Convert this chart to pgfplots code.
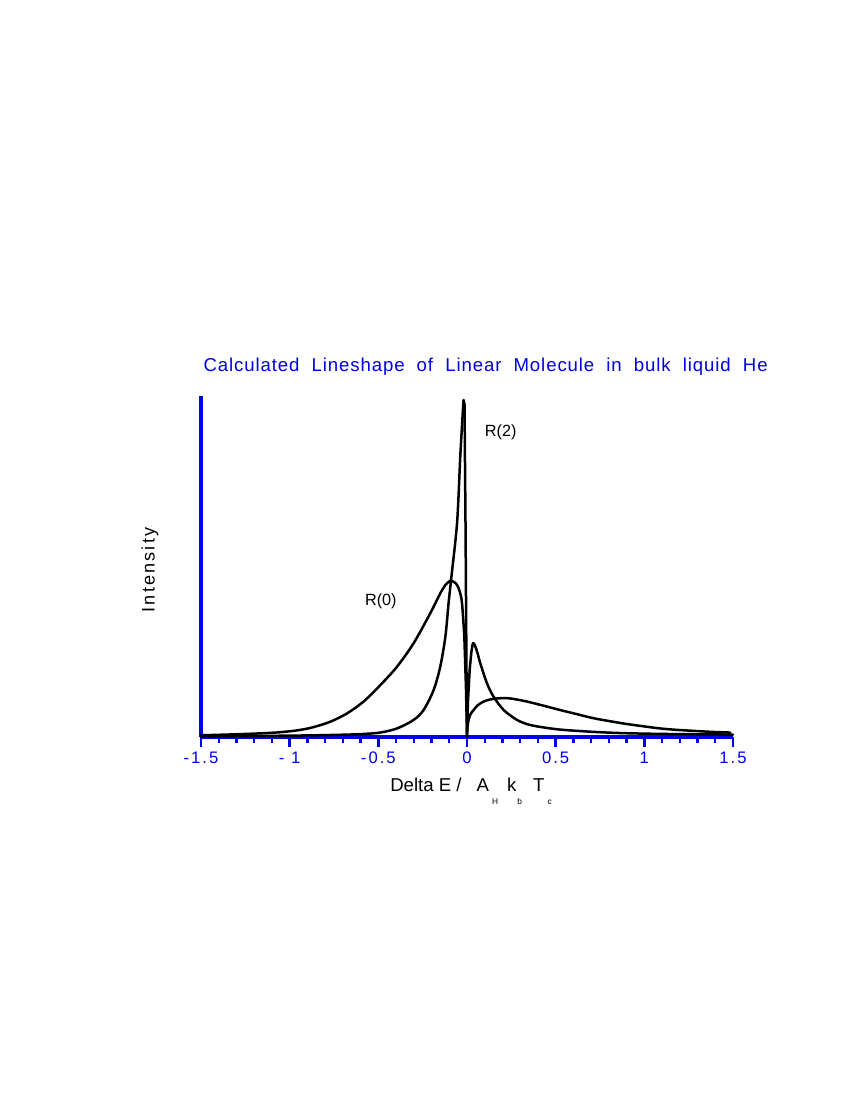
\documentclass[border=0pt]{standalone}
\usepackage{fontspec}
\setmainfont{Liberation Sans}
\newfontfamily\spaced[LetterSpace=12]{Liberation Sans}
\newfontfamily\titlefont[WordSpace=2,LetterSpace=4.8]{Liberation Sans}
\usepackage{pgfplots}
\pgfplotsset{compat=1.18}
\definecolor{axblue}{RGB}{0,0,230}
\begin{document}
\begin{tikzpicture}
\useasboundingbox (0,0) rectangle (612pt,792pt);
\begin{axis}[
  at={(144.72pt,261.36pt)}, anchor=south west,
  scale only axis, width=383.04pt, height=245.52pt,
  xmin=-1.5, xmax=1.5, ymin=0, ymax=1,
  axis x line*=bottom, axis y line*=left,
  axis line style={axblue, line width=2.2pt},
  xtick={-1.5,-1,-0.5,0,0.5,1,1.5},
  xticklabels={-1.5,- 1,-0.5,0,0.5,1,1.5},
  minor x tick num=4,
  ytick=\empty,
  tick align=outside,
  major tick length=7pt, minor tick length=4.4pt,
  tick style={axblue, line width=1.7pt},
  xticklabel style={font=\spaced\fontsize{12}{14}\selectfont, text=axblue},
  clip=false,
  every axis plot/.append style={black, line width=1.8pt, line join=round, line cap=round},
]
% R(0)
\addplot[smooth] coordinates {
(-1.5,0.005) (-1.3,0.008) (-1.15,0.011) (-1.053,0.014) (-0.95,0.020)
(-0.865,0.029) (-0.77,0.045) (-0.677,0.069) (-0.583,0.104) (-0.489,0.152)
(-0.395,0.206) (-0.301,0.275) (-0.207,0.363) (-0.151,0.421) (-0.12,0.447)
(-0.094,0.458) (-0.075,0.455) (-0.056,0.446) (-0.04,0.425) (-0.028,0.392)
(-0.015,0.294)
};
\addplot[sharp plot] coordinates {
(-0.015,0.294) (-0.006,0.148) (0,0.01) (0.005,0.1) (0.015,0.196)
};
\addplot[smooth] coordinates {
(0.015,0.196) (0.025,0.25) (0.034,0.275) (0.045,0.268) (0.06,0.245) (0.075,0.216)
(0.113,0.157) (0.15,0.118) (0.207,0.079) (0.282,0.050) (0.35,0.036)
(0.432,0.028) (0.52,0.022) (0.62,0.018) (0.75,0.014) (0.9,0.011)
(1.1,0.009) (1.3,0.008) (1.5,0.007)
};
% R(2)
\addplot[smooth] coordinates {
(-1.5,0.002) (-1.2,0.003) (-1.0,0.004) (-0.85,0.005) (-0.677,0.007)
(-0.58,0.009) (-0.489,0.013) (-0.395,0.025) (-0.301,0.050) (-0.245,0.079)
(-0.188,0.138) (-0.151,0.206) (-0.122,0.294) (-0.104,0.392) (-0.09,0.46)
(-0.056,0.628) (-0.038,0.822) (-0.023,0.959) (-0.019,0.988)
};
\addplot[sharp plot] coordinates {
(-0.019,0.988) (-0.014,0.975) (-0.008,0.6) (-0.003,0.2) (0,0)
};
\addplot[smooth] coordinates {
(0,0) (0.003,0.03) (0.009,0.05)
(0.02,0.067) (0.037,0.079) (0.06,0.093) (0.094,0.104) (0.13,0.110)
(0.169,0.113) (0.21,0.114) (0.244,0.113) (0.29,0.109) (0.338,0.104)
(0.43,0.092) (0.526,0.079) (0.62,0.067) (0.714,0.055) (0.81,0.046)
(0.902,0.038) (1.0,0.031) (1.09,0.025) (1.18,0.021) (1.277,0.018)
(1.38,0.015) (1.484,0.013)
};
\node[font=\fontsize{11.7}{14}\selectfont] at (axis cs:-0.486,0.397) {R(0)};
\node[font=\fontsize{11.7}{14}\selectfont] at (axis cs:0.19,0.893) {R(2)};
\node[anchor=base, text=axblue, font=\titlefont\fontsize{13.4}{16}\selectfont]
  at ([yshift=17.3pt]rel axis cs:0.535,1) {Calculated Lineshape of Linear Molecule in bulk liquid He};
\node[rotate=90, font=\spaced\fontsize{13}{15}\selectfont]
  at ([xshift=-36.7pt]rel axis cs:0,0.49) {Intensity};
\node[anchor=base west, inner sep=0pt, font=\fontsize{13.4}{16}\selectfont]
  at ([yshift=-39.4pt]rel axis cs:0.3553,0)
  {Delta E /\hspace{10.8pt}A\hspace{2.2pt}\raisebox{-9pt}{\fontsize{6}{7}\selectfont H}\hspace{6.5pt}k\hspace{0.7pt}\raisebox{-9pt}{\fontsize{6}{7}\selectfont b}\hspace{8pt}T\hspace{2.2pt}\raisebox{-9pt}{\fontsize{6}{7}\selectfont c}};
\end{axis}
\end{tikzpicture}
\end{document}
